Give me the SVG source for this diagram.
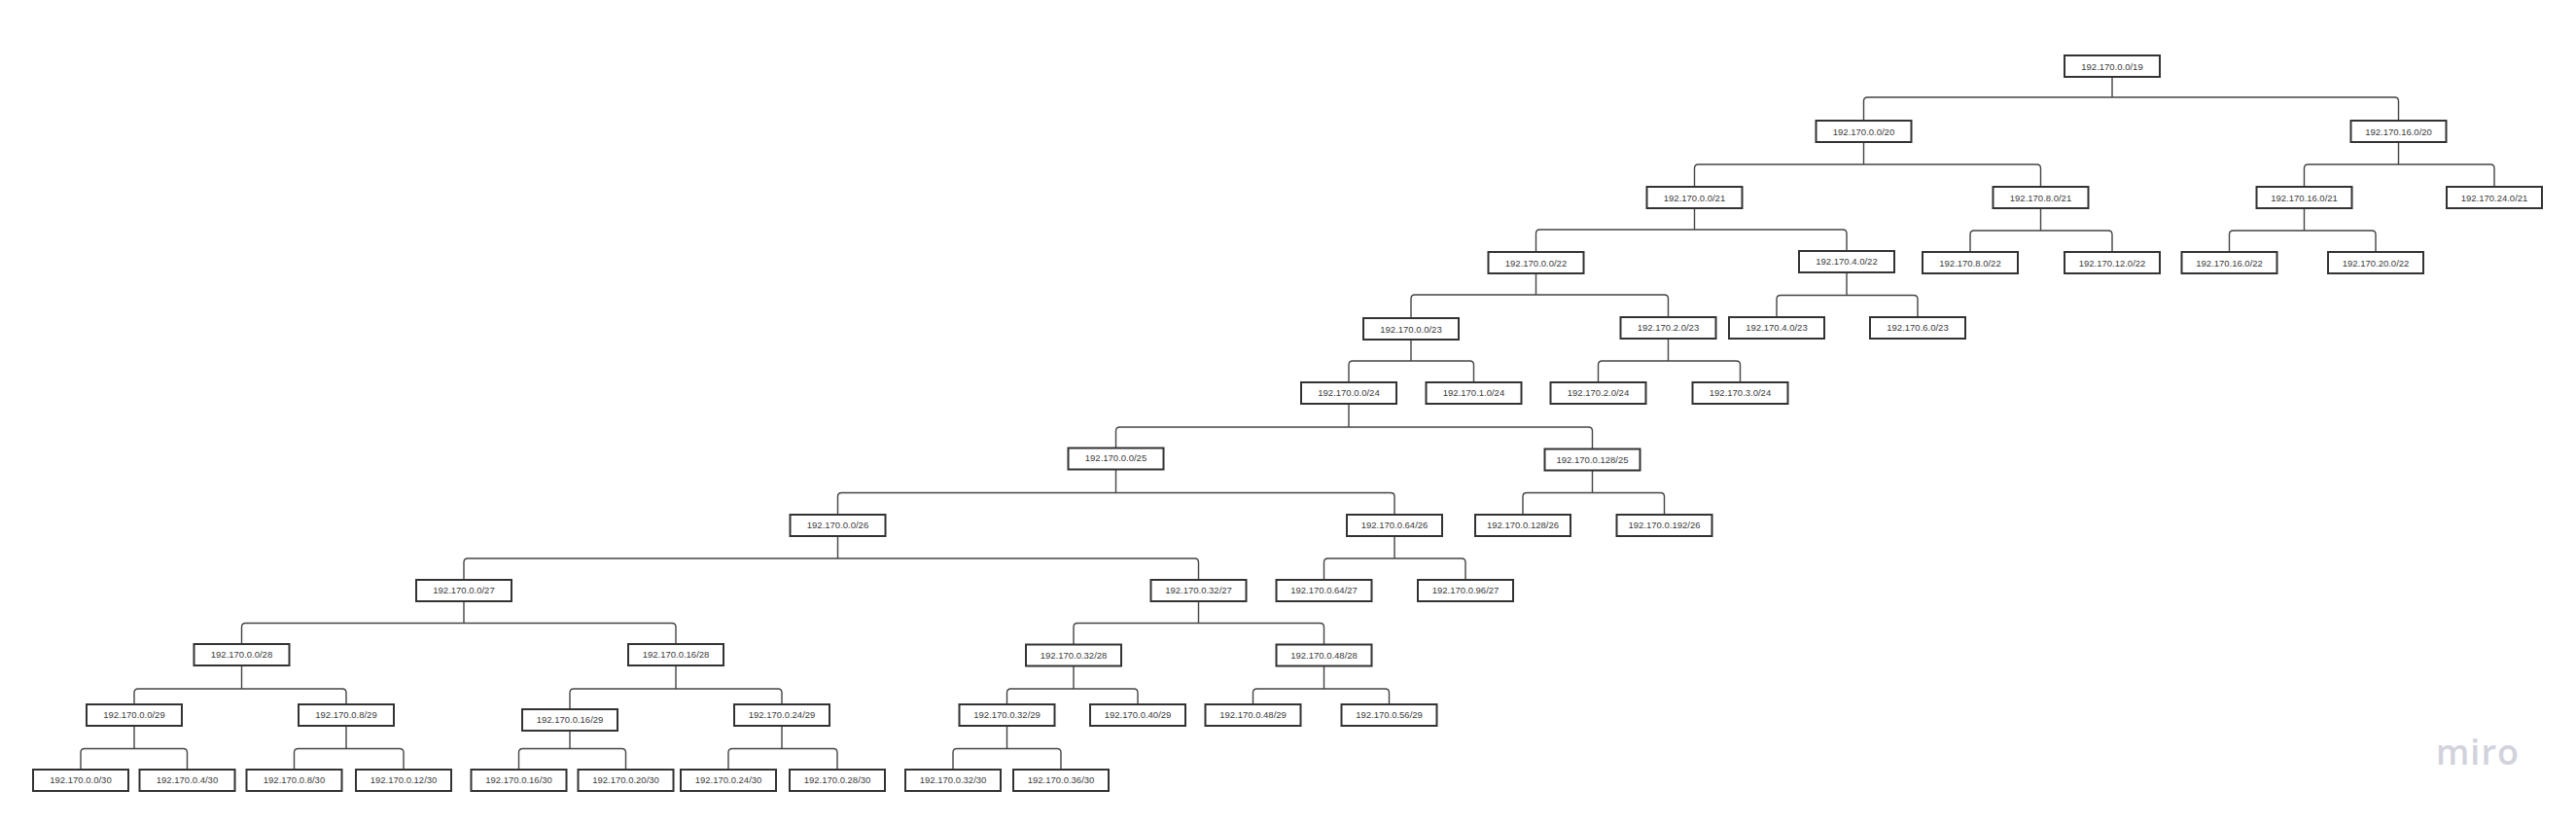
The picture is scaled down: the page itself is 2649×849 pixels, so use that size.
<svg xmlns="http://www.w3.org/2000/svg" width="2649" height="849" viewBox="0 0 2649 849">
<style>
.bg{fill:#ffffff}
.box{fill:#ffffff;stroke:#333333;stroke-width:2}
.lbl{font-family:"Liberation Sans",Arial,sans-serif;font-size:9.5px;fill:#3a3a3a;text-anchor:middle}
.con{fill:none;stroke:#444444;stroke-width:1.4}
.logo{font-family:"Open Sans","Liberation Sans",sans-serif;font-size:36px;font-weight:600;fill:#d2d2dd;letter-spacing:1px}
</style>
<rect class="bg" x="0" y="0" width="2649" height="849"/>
<g id="connectors">
<path class="con" d="M2172 79V100 M1916.5 124V104Q1916.5 100 1920.5 100H2462.5Q2466.5 100 2466.5 104V124"/>
<path class="con" d="M1916.5 146V169 M1742.5 192V173Q1742.5 169 1746.5 169H2094.5Q2098.5 169 2098.5 173V192"/>
<path class="con" d="M2466.5 146V169 M2369.5 192V173Q2369.5 169 2373.5 169H2561Q2565 169 2565 173V192"/>
<path class="con" d="M1742.5 214V236 M1579.5 259V240Q1579.5 236 1583.5 236H1895Q1899 236 1899 240V258"/>
<path class="con" d="M2098.5 214V237 M2026 259V241Q2026 237 2030 237H2168Q2172 237 2172 241V259"/>
<path class="con" d="M2369.5 214V237 M2292.5 259V241Q2292.5 237 2296.5 237H2439Q2443 237 2443 241V259"/>
<path class="con" d="M1579.5 281V303 M1451 327V307Q1451 303 1455 303H1711.5Q1715.5 303 1715.5 307V326"/>
<path class="con" d="M1899 280V303.5 M1827 326V307.5Q1827 303.5 1831 303.5H1968Q1972 303.5 1972 307.5V326"/>
<path class="con" d="M1451 349V371 M1387 393V375Q1387 371 1391 371H1511.5Q1515.5 371 1515.5 375V393"/>
<path class="con" d="M1715.5 348V371 M1643.5 393V375Q1643.5 371 1647.5 371H1785.5Q1789.5 371 1789.5 375V393"/>
<path class="con" d="M1387 415V439 M1147.5 460.5V443Q1147.5 439 1151.5 439H1633.5Q1637.5 439 1637.5 443V461.5"/>
<path class="con" d="M1147.5 482.5V506.5 M861.5 529V510.5Q861.5 506.5 865.5 506.5H1430Q1434 506.5 1434 510.5V529"/>
<path class="con" d="M1637.5 483.5V506.5 M1566 529V510.5Q1566 506.5 1570 506.5H1707.5Q1711.5 506.5 1711.5 510.5V529"/>
<path class="con" d="M861.5 551V574 M477 596V578Q477 574 481 574H1228.5Q1232.5 574 1232.5 578V596"/>
<path class="con" d="M1434 551V574 M1361.5 596V578Q1361.5 574 1365.5 574H1503Q1507 574 1507 578V596"/>
<path class="con" d="M477 618V640.5 M248.5 662V644.5Q248.5 640.5 252.5 640.5H691Q695 640.5 695 644.5V662"/>
<path class="con" d="M1232.5 618V640.5 M1104 662.5V644.5Q1104 640.5 1108 640.5H1357.5Q1361.5 640.5 1361.5 644.5V662.5"/>
<path class="con" d="M248.5 684V708 M138 724V712Q138 708 142 708H352Q356 708 356 712V724"/>
<path class="con" d="M695 684V708 M586 729V712Q586 708 590 708H800Q804 708 804 712V724"/>
<path class="con" d="M1104 684.5V708 M1035.5 724V712Q1035.5 708 1039.5 708H1166Q1170 708 1170 712V724"/>
<path class="con" d="M1361.5 684.5V708 M1288.5 724V712Q1288.5 708 1292.5 708H1424.5Q1428.5 708 1428.5 712V724"/>
<path class="con" d="M138 746V769.5 M83 791V773.5Q83 769.5 87 769.5H188.5Q192.5 769.5 192.5 773.5V791"/>
<path class="con" d="M356 746V769.5 M302.5 791V773.5Q302.5 769.5 306.5 769.5H411Q415 769.5 415 773.5V791"/>
<path class="con" d="M586 751V769.5 M533.5 791V773.5Q533.5 769.5 537.5 769.5H639.5Q643.5 769.5 643.5 773.5V791"/>
<path class="con" d="M804 746V769.5 M749 791V773.5Q749 769.5 753 769.5H857Q861 769.5 861 773.5V791"/>
<path class="con" d="M1035.5 746V769.5 M980 791V773.5Q980 769.5 984 769.5H1087Q1091 769.5 1091 773.5V791"/>
</g>
<g id="n0_19"><rect class="box" x="2123" y="57" width="98" height="22"/><text class="lbl" x="2172" y="71.5">192.170.0.0/19</text></g>
<g id="n0_20"><rect class="box" x="1867.5" y="124" width="98" height="22"/><text class="lbl" x="1916.5" y="138.5">192.170.0.0/20</text></g>
<g id="n16_20"><rect class="box" x="2417.5" y="124" width="98" height="22"/><text class="lbl" x="2466.5" y="138.5">192.170.16.0/20</text></g>
<g id="n0_21"><rect class="box" x="1693.5" y="192" width="98" height="22"/><text class="lbl" x="1742.5" y="206.5">192.170.0.0/21</text></g>
<g id="n8_21"><rect class="box" x="2049.5" y="192" width="98" height="22"/><text class="lbl" x="2098.5" y="206.5">192.170.8.0/21</text></g>
<g id="n16_21"><rect class="box" x="2320.5" y="192" width="98" height="22"/><text class="lbl" x="2369.5" y="206.5">192.170.16.0/21</text></g>
<g id="n24_21"><rect class="box" x="2516" y="192" width="98" height="22"/><text class="lbl" x="2565" y="206.5">192.170.24.0/21</text></g>
<g id="n0_22"><rect class="box" x="1530.5" y="259" width="98" height="22"/><text class="lbl" x="1579.5" y="273.5">192.170.0.0/22</text></g>
<g id="n4_22"><rect class="box" x="1850" y="258" width="98" height="22"/><text class="lbl" x="1899" y="271.5">192.170.4.0/22</text></g>
<g id="n8_22"><rect class="box" x="1977" y="259" width="98" height="22"/><text class="lbl" x="2026" y="274">192.170.8.0/22</text></g>
<g id="n12_22"><rect class="box" x="2123" y="259" width="98" height="22"/><text class="lbl" x="2172" y="274">192.170.12.0/22</text></g>
<g id="n16_22"><rect class="box" x="2243.5" y="259" width="98" height="22"/><text class="lbl" x="2292.5" y="274">192.170.16.0/22</text></g>
<g id="n20_22"><rect class="box" x="2394" y="259" width="98" height="22"/><text class="lbl" x="2443" y="274">192.170.20.0/22</text></g>
<g id="n0_23"><rect class="box" x="1402" y="327" width="98" height="22"/><text class="lbl" x="1451" y="341.5">192.170.0.0/23</text></g>
<g id="n2_23"><rect class="box" x="1666.5" y="326" width="98" height="22"/><text class="lbl" x="1715.5" y="339.5">192.170.2.0/23</text></g>
<g id="n4_23"><rect class="box" x="1778" y="326" width="98" height="22"/><text class="lbl" x="1827" y="339.5">192.170.4.0/23</text></g>
<g id="n6_23"><rect class="box" x="1923" y="326" width="98" height="22"/><text class="lbl" x="1972" y="339.5">192.170.6.0/23</text></g>
<g id="n0_24"><rect class="box" x="1338" y="393" width="98" height="22"/><text class="lbl" x="1387" y="407">192.170.0.0/24</text></g>
<g id="n1_24"><rect class="box" x="1466.5" y="393" width="98" height="22"/><text class="lbl" x="1515.5" y="407">192.170.1.0/24</text></g>
<g id="n2_24"><rect class="box" x="1594.5" y="393" width="98" height="22"/><text class="lbl" x="1643.5" y="407">192.170.2.0/24</text></g>
<g id="n3_24"><rect class="box" x="1740.5" y="393" width="98" height="22"/><text class="lbl" x="1789.5" y="407">192.170.3.0/24</text></g>
<g id="n0_25"><rect class="box" x="1098.5" y="460.5" width="98" height="22"/><text class="lbl" x="1147.5" y="474">192.170.0.0/25</text></g>
<g id="n128_25"><rect class="box" x="1588.5" y="461.5" width="98" height="22"/><text class="lbl" x="1637.5" y="476">192.170.0.128/25</text></g>
<g id="n0_26"><rect class="box" x="812.5" y="529" width="98" height="22"/><text class="lbl" x="861.5" y="543">192.170.0.0/26</text></g>
<g id="n64_26"><rect class="box" x="1385" y="529" width="98" height="22"/><text class="lbl" x="1434" y="543">192.170.0.64/26</text></g>
<g id="n128_26"><rect class="box" x="1517" y="529" width="98" height="22"/><text class="lbl" x="1566" y="543">192.170.0.128/26</text></g>
<g id="n192_26"><rect class="box" x="1662.5" y="529" width="98" height="22"/><text class="lbl" x="1711.5" y="543">192.170.0.192/26</text></g>
<g id="n0_27"><rect class="box" x="428" y="596" width="98" height="22"/><text class="lbl" x="477" y="610">192.170.0.0/27</text></g>
<g id="n32_27"><rect class="box" x="1183.5" y="596" width="98" height="22"/><text class="lbl" x="1232.5" y="610">192.170.0.32/27</text></g>
<g id="n64_27"><rect class="box" x="1312.5" y="596" width="98" height="22"/><text class="lbl" x="1361.5" y="610">192.170.0.64/27</text></g>
<g id="n96_27"><rect class="box" x="1458" y="596" width="98" height="22"/><text class="lbl" x="1507" y="610">192.170.0.96/27</text></g>
<g id="n0_28"><rect class="box" x="199.5" y="662" width="98" height="22"/><text class="lbl" x="248.5" y="676">192.170.0.0/28</text></g>
<g id="n16_28"><rect class="box" x="646" y="662" width="98" height="22"/><text class="lbl" x="695" y="676">192.170.0.16/28</text></g>
<g id="n32_28"><rect class="box" x="1055" y="662.5" width="98" height="22"/><text class="lbl" x="1104" y="676.5">192.170.0.32/28</text></g>
<g id="n48_28"><rect class="box" x="1312.5" y="662.5" width="98" height="22"/><text class="lbl" x="1361.5" y="676.5">192.170.0.48/28</text></g>
<g id="n0_29"><rect class="box" x="89" y="724" width="98" height="22"/><text class="lbl" x="138" y="738">192.170.0.0/29</text></g>
<g id="n8_29"><rect class="box" x="307" y="724" width="98" height="22"/><text class="lbl" x="356" y="738">192.170.0.8/29</text></g>
<g id="n16_29"><rect class="box" x="537" y="729" width="98" height="22"/><text class="lbl" x="586" y="743">192.170.0.16/29</text></g>
<g id="n24_29"><rect class="box" x="755" y="724" width="98" height="22"/><text class="lbl" x="804" y="738">192.170.0.24/29</text></g>
<g id="n32_29"><rect class="box" x="986.5" y="724" width="98" height="22"/><text class="lbl" x="1035.5" y="738">192.170.0.32/29</text></g>
<g id="n40_29"><rect class="box" x="1121" y="724" width="98" height="22"/><text class="lbl" x="1170" y="738">192.170.0.40/29</text></g>
<g id="n48_29"><rect class="box" x="1239.5" y="724" width="98" height="22"/><text class="lbl" x="1288.5" y="738">192.170.0.48/29</text></g>
<g id="n56_29"><rect class="box" x="1379.5" y="724" width="98" height="22"/><text class="lbl" x="1428.5" y="738">192.170.0.56/29</text></g>
<g id="n0_30"><rect class="box" x="34" y="791" width="98" height="22"/><text class="lbl" x="83" y="805">192.170.0.0/30</text></g>
<g id="n4_30"><rect class="box" x="143.5" y="791" width="98" height="22"/><text class="lbl" x="192.5" y="805">192.170.0.4/30</text></g>
<g id="n8_30"><rect class="box" x="253.5" y="791" width="98" height="22"/><text class="lbl" x="302.5" y="805">192.170.0.8/30</text></g>
<g id="n12_30"><rect class="box" x="366" y="791" width="98" height="22"/><text class="lbl" x="415" y="805">192.170.0.12/30</text></g>
<g id="n16_30"><rect class="box" x="484.5" y="791" width="98" height="22"/><text class="lbl" x="533.5" y="805">192.170.0.16/30</text></g>
<g id="n20_30"><rect class="box" x="594.5" y="791" width="98" height="22"/><text class="lbl" x="643.5" y="805">192.170.0.20/30</text></g>
<g id="n24_30"><rect class="box" x="700" y="791" width="98" height="22"/><text class="lbl" x="749" y="805">192.170.0.24/30</text></g>
<g id="n28_30"><rect class="box" x="812" y="791" width="98" height="22"/><text class="lbl" x="861" y="805">192.170.0.28/30</text></g>
<g id="n32_30"><rect class="box" x="931" y="791" width="98" height="22"/><text class="lbl" x="980" y="805">192.170.0.32/30</text></g>
<g id="n36_30"><rect class="box" x="1042" y="791" width="98" height="22"/><text class="lbl" x="1091" y="805">192.170.0.36/30</text></g>
<text class="logo" x="2505" y="786">miro</text>
</svg>
